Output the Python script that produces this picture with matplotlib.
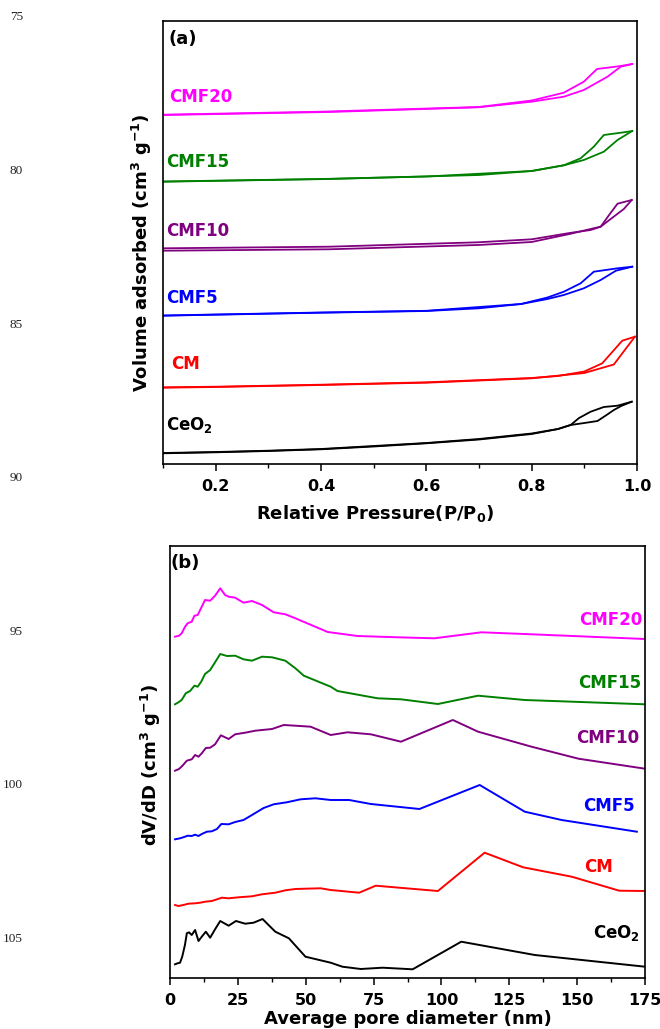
import matplotlib.pyplot as plt
from matplotlib.ticker import MultipleLocator

plt.rcParams['font.family'] = ['DejaVu Sans']
plt.rcParams['mathtext.fontset'] = 'dejavusans'

# (a) N2 isotherms, stacked with offsets (arbitrary units)
p_ads_ceo2 = [0.1, 0.2, 0.3, 0.4, 0.5, 0.6, 0.7, 0.8, 0.85, 0.874, 0.9, 0.925, 0.945, 0.956, 0.97, 0.99]
v_ads_ceo2 = [10.7, 11.7, 13, 14.7, 17.5, 20.7, 24.5, 30, 35, 39, 41, 43, 50, 54, 58, 62.3]
p_des_ceo2 = [0.99, 0.963, 0.937, 0.912, 0.89, 0.874, 0.85, 0.8, 0.7, 0.6, 0.5, 0.4, 0.3, 0.2, 0.1]
v_des_ceo2 = [62.3, 58.3, 57, 52.3, 46, 39, 35, 30.5, 25, 21, 18, 15, 13.3, 12, 11]

p_ads_cm = [0.1, 0.2, 0.4, 0.6, 0.8, 0.9, 0.956, 0.996]
v_ads_cm = [76.3, 77, 79, 81.3, 85.7, 91, 99.5, 127.3]
p_des_cm = [0.996, 0.972, 0.934, 0.9, 0.85, 0.8, 0.6, 0.4, 0.2, 0.1]
v_des_cm = [127.3, 123.3, 100.7, 92.5, 88, 86, 81.7, 79.3, 77.3, 76.7]

p_ads_cmf5 = [0.1, 0.4, 0.6, 0.7, 0.78, 0.83, 0.861, 0.899, 0.931, 0.96, 0.991]
v_ads_cmf5 = [148.3, 151.3, 153, 155.7, 160, 165, 169, 175.7, 184, 193.3, 197.3]
p_des_cmf5 = [0.991, 0.963, 0.918, 0.893, 0.861, 0.83, 0.78, 0.6, 0.4, 0.1]
v_des_cmf5 = [197.3, 195.7, 192.3, 180.7, 172.3, 166.5, 160, 153.2, 151.5, 148.5]

p_ads_cmf10 = [0.1, 0.415, 0.698, 0.8, 0.872, 0.912, 0.931, 0.95, 0.975, 0.99]
v_ads_cmf10 = [213.3, 214.7, 219, 222, 230, 235, 237.3, 245, 255, 264]
p_des_cmf10 = [0.99, 0.963, 0.947, 0.931, 0.912, 0.872, 0.8, 0.698, 0.415, 0.1]
v_des_cmf10 = [264, 260.3, 249, 237.3, 234, 231, 224.7, 221.7, 217.3, 215.7]

p_ads_cmf15 = [0.1, 0.415, 0.7, 0.8, 0.861, 0.899, 0.937, 0.963, 0.991]
v_ads_cmf15 = [282.3, 285, 289, 293, 298.7, 304, 312.3, 324, 333]
p_des_cmf15 = [0.991, 0.975, 0.937, 0.918, 0.893, 0.861, 0.8, 0.6, 0.4, 0.1]
v_des_cmf15 = [333, 331.7, 329, 317.3, 305.7, 298.7, 293, 287.5, 285, 282.5]

p_ads_cmf20 = [0.1, 0.415, 0.698, 0.8, 0.861, 0.899, 0.944, 0.969, 0.991]
v_ads_cmf20 = [349, 352, 356.7, 362.3, 367.3, 374, 387.3, 397.3, 400]
p_des_cmf20 = [0.991, 0.969, 0.924, 0.899, 0.861, 0.8, 0.7, 0.4, 0.1]
v_des_cmf20 = [400, 398, 395, 382.3, 371.3, 363.5, 357, 352.3, 349.3]

# (b) pore size distributions, stacked with offsets (arbitrary units)
d_cmf20 = [1.85, 3.33, 4.3, 5.55, 6.5, 8.0, 9.0, 10.2, 11.7, 12.9, 14.8, 16.6, 18.5, 20.3, 21.6,
           24.0, 27.1, 30.2, 33.9, 38.2, 42.5, 46.2, 58.1, 69.1, 83.9, 97.4, 114.7, 133.2, 175]
y_cmf20 = [341.3, 342.3, 344.7, 351.3, 354.7, 356.3, 362.3, 363, 371.3, 378, 377.3, 382.3, 389.7, 383, 381.3,
           380.3, 375.3, 377, 373, 365.7, 363.7, 359.7, 346, 342, 340.7, 339.7, 345.7, 343.7, 339]

d_cmf15 = [1.85, 3.1, 4.3, 5.8, 7.4, 9.0, 10.2, 11.5, 12.9, 14.8, 16.6, 18.5, 21.0, 24.0, 27.1,
           30.2, 33.9, 37.6, 42.5, 46.2, 49.3, 59.2, 61.7, 76.5, 85.1, 98.7, 113.5, 130.7, 175]
y_cmf15 = [273.7, 275.7, 278, 284.7, 287, 292.3, 291.3, 296.3, 304, 308, 315.7, 324, 322, 322.3, 318.7,
           317.3, 321.3, 320.7, 317.3, 309.7, 302.3, 291.3, 287, 279.7, 278.7, 274, 282.3, 278, 273.7]

d_cmf10 = [1.85, 3.33, 4.6, 6.2, 8.0, 9.25, 10.5, 11.7, 13.2, 14.8, 16.6, 18.75, 21.6, 24.0, 27.7,
           31.4, 37.6, 41.9, 46.2, 51.8, 59.2, 65.4, 74.0, 85.1, 104.2, 113.5, 133.2, 150.5, 175]
y_cmf10 = [207.3, 209, 212.3, 217.3, 218.7, 223, 221.3, 224.7, 230, 230.3, 233.7, 242.7, 239, 243.7, 245.3,
           247.3, 249, 253, 252.3, 251.3, 243, 245.7, 243.7, 236.3, 258, 246.3, 231.3, 219.3, 209.3]

d_cmf5 = [1.85, 3.7, 5.55, 6.5, 8.0, 9.25, 10.5, 11.7, 13.6, 15.4, 17.3, 18.9, 21.6, 24.0, 27.1,
          30.2, 34.5, 38.2, 43.2, 48.1, 53.6, 59.2, 66.0, 74.0, 91.9, 114.1, 130.7, 144.3, 172]
y_cmf5 = [138.7, 139.7, 141.3, 142.3, 142, 143.3, 142, 144, 146.3, 146.7, 149, 154, 153.7, 156, 158,
          163, 170, 173.7, 175.8, 178.7, 179.7, 178, 178, 174, 169, 193, 166.3, 158, 146.3]

d_cm = [1.85, 3.1, 4.9, 6.8, 9.25, 11.1, 13.0, 15.4, 19.1, 21.6, 25.3, 30.2, 33.9, 38.8,
        42.5, 46.2, 49.9, 55.5, 59.2, 69.7, 75.8, 98.7, 115.9, 130.1, 148.0, 165.5, 175]
y_cm = [73, 72, 73, 74.3, 74.7, 75.3, 76.3, 77, 80.3, 79.7, 80.7, 81.7, 83.7, 85.3,
        87.7, 89, 89.3, 89.7, 88, 85.3, 92.3, 87, 125.3, 110.7, 101.3, 87.3, 87]

d_ceo2 = [1.85, 2.8, 3.7, 4.5, 5.5, 6.2, 7.0, 8.0, 9.25, 10.5, 11.7, 13.2, 14.8, 16.6, 18.5, 21.6,
          24.3, 27.7, 30.8, 34.1, 36.3, 38.8, 43.8, 49.9, 59.2, 63.5, 70.3, 78.3, 89.4, 107.3, 134.4, 175]
y_ceo2 = [13.7, 14.7, 15.3, 21.3, 33, 44.7, 45.7, 43, 48, 37, 41.3, 46.3, 40.3, 48.7, 57, 52.3,
          57, 54.3, 55.3, 59, 53, 46.3, 39.7, 21.3, 15.3, 11.3, 9, 10.3, 8.7, 36.3, 23, 11.3]

line_numbers = ['75', '80', '85', '90', '95', '100', '105']

W, H = 660, 1029
fig = plt.figure(figsize=(W / 100, H / 100), dpi=100)


def px(x, y):
    return x / W, 1 - y / H


ax_a = fig.add_axes([163 / W, 1 - 464 / H, 474 / W, 443 / H])
ax_b = fig.add_axes([170 / W, 1 - 978 / H, 475 / W, 432 / H])

iso = [
    (p_ads_ceo2, v_ads_ceo2, p_des_ceo2, v_des_ceo2, 'black'),
    (p_ads_cm, v_ads_cm, p_des_cm, v_des_cm, 'red'),
    (p_ads_cmf5, v_ads_cmf5, p_des_cmf5, v_des_cmf5, 'blue'),
    (p_ads_cmf10, v_ads_cmf10, p_des_cmf10, v_des_cmf10, 'purple'),
    (p_ads_cmf15, v_ads_cmf15, p_des_cmf15, v_des_cmf15, 'green'),
    (p_ads_cmf20, v_ads_cmf20, p_des_cmf20, v_des_cmf20, 'magenta'),
]
for pa, va, pd, vd, c in iso:
    ax_a.plot(pa, va, color=c, lw=1.3)
    ax_a.plot(pd, vd, color=c, lw=1.3)

psd = [
    (d_ceo2, y_ceo2, 'black'),
    (d_cm, y_cm, 'red'),
    (d_cmf5, y_cmf5, 'blue'),
    (d_cmf10, y_cmf10, 'purple'),
    (d_cmf15, y_cmf15, 'green'),
    (d_cmf20, y_cmf20, 'magenta'),
]
for d, y, c in psd:
    ax_b.plot(d, y, color=c, lw=1.4)

ax_a.set_xlim(0.1, 1.0)
ax_a.set_ylim(0, 443)
ax_a.xaxis.set_major_locator(MultipleLocator(0.2))
ax_a.xaxis.set_minor_locator(MultipleLocator(0.1))
ax_a.set_xticks([0.2, 0.4, 0.6, 0.8, 1.0])

ax_b.set_xlim(0, 175)
ax_b.set_ylim(0, 432)
ax_b.xaxis.set_major_locator(MultipleLocator(25))
ax_b.xaxis.set_minor_locator(MultipleLocator(12.5))

for ax in (ax_a, ax_b):
    ax.set_yticks([])
    for s in ax.spines.values():
        s.set_linewidth(1.2)
    ax.tick_params(axis='x', which='major', direction='out', length=5, width=1.1,
                   pad=6, labelsize=11.5)
    ax.tick_params(axis='x', which='minor', direction='out', length=3, width=1.0)
    for lab in ax.get_xticklabels():
        lab.set_fontweight('bold')

# axis titles
fig.text(*px(375, 513), r'Relative Pressure(P/P$_\mathbf{0}$)', fontsize=13,
         fontweight='bold', ha='center', va='center')
fig.text(*px(142, 253), r'Volume adsorbed (cm$^\mathbf{3}$ g$^\mathbf{-1}$)', fontsize=13,
         fontweight='bold', ha='center', va='center', rotation=90)
fig.text(*px(408, 1019), 'Average pore diameter (nm)', fontsize=13,
         fontweight='bold', ha='center', va='center')
fig.text(*px(151, 765), r'dV/dD (cm$^\mathbf{3}$ g$^\mathbf{-1}$)', fontsize=13,
         fontweight='bold', ha='center', va='center', rotation=90)

# panel letters
fig.text(*px(169, 39), '(a)', fontsize=13, fontweight='bold', va='center')
fig.text(*px(171, 563), '(b)', fontsize=13, fontweight='bold', va='center')

# sample labels, panel (a)
labels_a = [
    ('CMF20', 169, 101.7, 'magenta'),
    ('CMF15', 165.7, 166.7, 'green'),
    ('CMF10', 166, 236, 'purple'),
    ('CMF5', 165.7, 303.3, 'blue'),
    ('CM', 171, 369.3, 'red'),
    (r'CeO$_\mathbf{2}$', 165.7, 430, 'black'),
]
for t, x, y, c in labels_a:
    fig.text(*px(x, y), t, color=c, fontsize=12, fontweight='bold', va='baseline')

# sample labels, panel (b)
labels_b = [
    ('CMF20', 642.7, 625, 'magenta'),
    ('CMF15', 641.7, 687.7, 'green'),
    ('CMF10', 639.3, 743.3, 'purple'),
    ('CMF5', 635, 810.7, 'blue'),
    ('CM', 613.3, 871.7, 'red'),
    (r'CeO$_\mathbf{2}$', 639.3, 938.3, 'black'),
]
for t, x, y, c in labels_b:
    fig.text(*px(x, y), t, color=c, fontsize=12, fontweight='bold', va='baseline', ha='right')

# manuscript line numbers in the margin
for i, n in enumerate(line_numbers):
    fig.text(*px(23, 17.5 + 153.6 * i), n, fontsize=9.5, family='Liberation Serif',
             color='#222222', ha='right', va='center')

fig.savefig('out.png', dpi=100)
